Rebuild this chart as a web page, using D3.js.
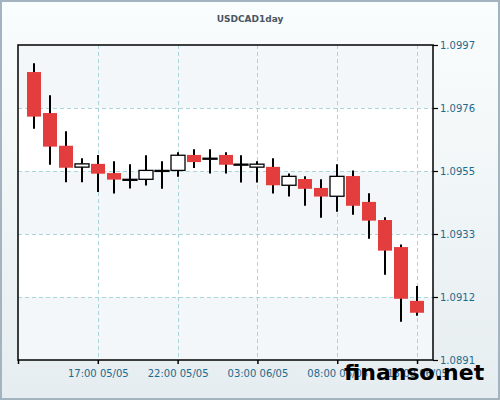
<!DOCTYPE html>
<html>
<head>
<meta charset="utf-8">
<script src="https://cdn.jsdelivr.net/npm/d3@7"></script>
<style>
  body { margin: 0; }
  svg { display: block; font-family: "DejaVu Sans", Verdana, sans-serif; }
</style>
</head>
<body>
<div id="viz"></div>
<script>
// candle data, hourly from 13:00 05/05
const hours = ["2024-05-05T13:00","2024-05-05T14:00","2024-05-05T15:00","2024-05-05T16:00","2024-05-05T17:00",
  "2024-05-05T18:00","2024-05-05T19:00","2024-05-05T20:00","2024-05-05T21:00","2024-05-05T22:00",
  "2024-05-05T23:00","2024-05-06T00:00","2024-05-06T01:00","2024-05-06T02:00","2024-05-06T03:00",
  "2024-05-06T04:00","2024-05-06T05:00","2024-05-06T06:00","2024-05-06T07:00","2024-05-06T08:00",
  "2024-05-06T09:00","2024-05-06T10:00","2024-05-06T11:00","2024-05-06T12:00","2024-05-06T13:00"];
const open  = [1.09879,1.09741,1.09631,1.09559,1.09570,1.09539,1.09518,1.09518,1.09548,1.09548,
  1.09600,1.09589,1.09600,1.09569,1.09559,1.09560,1.09498,1.09519,1.09489,1.09461,
  1.09529,1.09442,1.09381,1.09290,1.09109];
const high  = [1.09909,1.09801,1.09680,1.09589,1.09600,1.09579,1.09569,1.09599,1.09579,1.09609,
  1.09619,1.09619,1.09609,1.09599,1.09579,1.09589,1.09538,1.09528,1.09518,1.09569,
  1.09548,1.09471,1.09390,1.09299,1.09159];
const low   = [1.09688,1.09567,1.09508,1.09508,1.09475,1.09470,1.09487,1.09497,1.09486,1.09527,
  1.09556,1.09538,1.09538,1.09507,1.09507,1.09470,1.09460,1.09429,1.09389,1.09409,
  1.09399,1.09318,1.09197,1.09039,1.09059];
const close = [1.09729,1.09628,1.09557,1.09570,1.09537,1.09517,1.09518,1.09548,1.09548,1.09599,
  1.09576,1.09589,1.09567,1.09569,1.09569,1.09498,1.09528,1.09486,1.09460,1.09528,
  1.09429,1.09379,1.09278,1.09116,1.09069];

// axis ticks
const yTicks = [1.0891, 1.09122, 1.09334, 1.09546, 1.09758, 1.0997];
const xTicks = ["2024-05-05T12:00","2024-05-05T17:00","2024-05-05T22:00","2024-05-06T03:00","2024-05-06T08:00","2024-05-06T13:00"];
const xLabels = ["", "17:00 05/05", "22:00 05/05", "03:00 06/05", "08:00 06/05", "13:00 06/05"];

const width = 500, height = 400;
const plot = {left: 18, top: 45, right: 433, bottom: 360};

const parse = d3.timeParse("%Y-%m-%dT%H:%M");
const data = hours.map((h, i) => ({t: parse(h), o: open[i], h: high[i], l: low[i], c: close[i]}));

const x = d3.scaleTime()
    .domain([parse("2024-05-05T12:00"), parse("2024-05-06T14:00")])
    .range([plot.left, plot.right]);
const y = d3.scaleLinear().domain([1.0891, 1.0997]).range([plot.bottom, plot.top]);

const svg = d3.select("#viz").append("svg")
    .attr("width", width).attr("height", height);

// page background
const grad = svg.append("defs").append("linearGradient")
    .attr("id", "bg").attr("x1", 0).attr("y1", 0).attr("x2", 0).attr("y2", 1);
grad.append("stop").attr("offset", "0%").attr("stop-color", "#fafdfd");
grad.append("stop").attr("offset", "100%").attr("stop-color", "#e6edf0");
svg.append("rect").attr("x", 1).attr("y", 1).attr("width", width - 2).attr("height", height - 2)
    .attr("fill", "url(#bg)").attr("stroke", "#a3b3bf").attr("stroke-width", 2);

// alternating bands
svg.append("g").selectAll("rect")
    .data(d3.pairs(yTicks))
    .join("rect")
    .attr("x", plot.left).attr("width", plot.right - plot.left)
    .attr("y", d => y(d[1])).attr("height", d => y(d[0]) - y(d[1]))
    .attr("fill", (d, i) => i % 2 === 0 ? "#f3f7f9" : "#ffffff");

// grid
const grid = svg.append("g").attr("stroke", "#a9d5dd").attr("stroke-dasharray", "4,3").attr("stroke-width", 1);
grid.selectAll(".gy").data(yTicks.slice(1, -1)).join("line")
    .attr("x1", plot.left).attr("x2", plot.right)
    .attr("y1", d => Math.round(y(d)) + 0.5).attr("y2", d => Math.round(y(d)) + 0.5);
grid.selectAll(".gx").data(xTicks.slice(1)).join("line")
    .attr("x1", d => Math.round(x(parse(d))) + 0.5).attr("x2", d => Math.round(x(parse(d))) + 0.5)
    .attr("y1", plot.top).attr("y2", plot.bottom);

// candles
const bw = 14;
const candles = svg.append("g").selectAll("g").data(data).join("g");
candles.append("line")
    .attr("x1", d => Math.round(x(d.t))).attr("x2", d => Math.round(x(d.t)))
    .attr("y1", d => y(d.h)).attr("y2", d => y(d.l))
    .attr("stroke", "#000").attr("stroke-width", 2);
candles.append("rect")
    .attr("x", d => Math.round(x(d.t)) - bw / 2)
    .attr("width", bw)
    .attr("y", d => y(Math.max(d.o, d.c)))
    .attr("height", d => Math.max(1, Math.abs(y(d.o) - y(d.c))))
    .attr("fill", d => d.c < d.o ? "#e33d3d" : "#ffffff")
    .attr("stroke", d => d.c < d.o ? "none" : "#000")
    .attr("stroke-width", 1.3);

// plot frame
svg.append("rect")
    .attr("x", plot.left).attr("y", plot.top)
    .attr("width", plot.right - plot.left).attr("height", plot.bottom - plot.top)
    .attr("fill", "none").attr("stroke", "#000").attr("stroke-width", 1.5);

// x axis
const xa = svg.append("g").attr("transform", "translate(0," + plot.bottom + ")")
    .call(d3.axisBottom(x).tickValues(xTicks.map(parse))
        .tickFormat((d, i) => xLabels[i]).tickSize(4).tickSizeOuter(0));
xa.select(".domain").remove();
xa.selectAll("line").attr("stroke", "#000").attr("stroke-width", 1.5);
xa.selectAll("text").attr("fill", "#1d6a8c").attr("font-size", 10)
    .attr("font-family", "DejaVu Sans").attr("dy", "0.95em");

// y axis
const ya = svg.append("g").attr("transform", "translate(" + plot.right + ",0)")
    .call(d3.axisRight(y).tickValues(yTicks).tickFormat(d3.format(".4f")).tickSize(5).tickSizeOuter(0));
ya.select(".domain").remove();
ya.selectAll("line").attr("stroke", "#000").attr("stroke-width", 1.2);
ya.selectAll("text").attr("fill", "#1d6a8c").attr("font-size", 10)
    .attr("font-family", "DejaVu Sans").attr("x", 7);

// title
svg.append("text")
    .attr("x", 250).attr("y", 22)
    .attr("text-anchor", "middle")
    .attr("font-size", 9).attr("font-weight", "bold")
    .attr("fill", "#4a5661")
    .text("USDCAD1day");

// watermark
svg.append("text")
    .attr("x", 344).attr("y", 380)
    .attr("font-size", 22).attr("font-weight", "bold")
    .attr("fill", "#000")
    .text("finanso.net");
</script>
</body>
</html>
